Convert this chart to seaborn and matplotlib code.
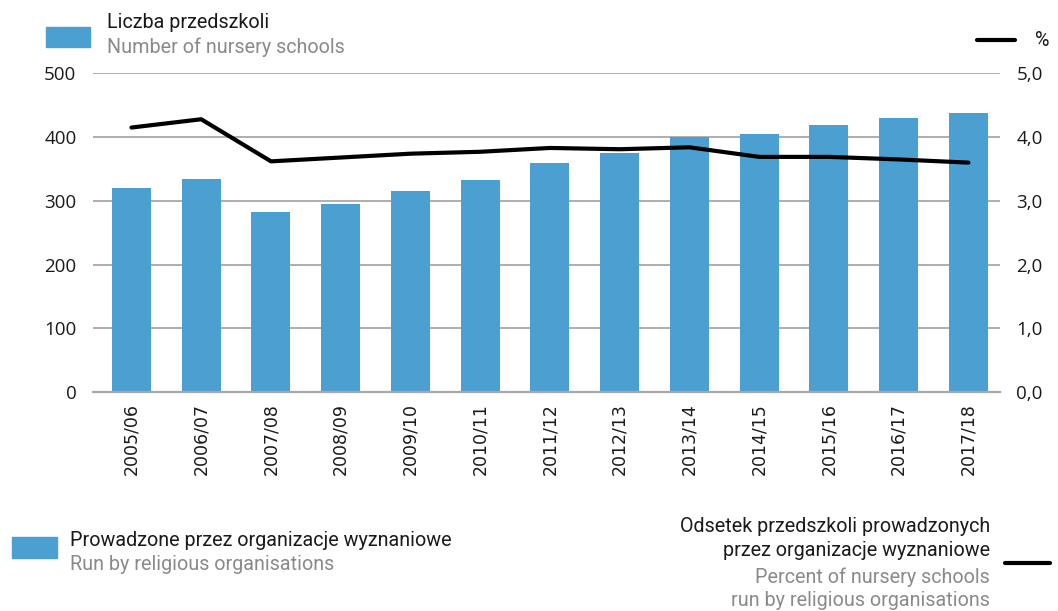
import numpy as np
import pandas as pd
import matplotlib
matplotlib.use("Agg")
import matplotlib.pyplot as plt
import seaborn as sns
from matplotlib.patches import Rectangle
from matplotlib.lines import Line2D

# ---------------------------------------------------
# DATA
# ---------------------------------------------------

years = ["2005/06", "2006/07", "2007/08", "2008/09", "2009/10", "2010/11",
         "2011/12", "2012/13", "2013/14", "2014/15", "2015/16", "2016/17",
         "2017/18"]
schools = [321, 334, 282, 295, 315, 332, 359, 375, 400, 405, 419, 430, 438]
percent = [4.15, 4.28, 3.62, 3.68, 3.74, 3.77, 3.83, 3.81, 3.84, 3.69, 3.69,
           3.65, 3.60]

left_ticks = [0, 100, 200, 300, 400, 500]
right_ticks = [0.0, 1.0, 2.0, 3.0, 4.0, 5.0]

df = pd.DataFrame({"year": years, "schools": schools, "percent": percent})
df["pos"] = np.arange(len(df))

BLUE = "#4c9fd1"
GRAY_TXT = "#8a8a8a"
GRID = "#a8a8a8"
NARROW = ["Roboto", "DejaVu Sans"]
TICKF = ["Open Sans", "DejaVu Sans"]
LEG_SIZE = 14.2

sns.set_theme(style="white")
plt.rcParams["font.family"] = TICKF

fig = plt.figure(figsize=(10.58, 6.11), dpi=100)
ax = fig.add_axes([0.088, 0.358, 0.857, 0.522])

# ---------------------------------------------------
# BARS
# ---------------------------------------------------

sns.barplot(data=df, x="year", y="schools", color=BLUE, width=0.56,
            saturation=1, linewidth=0, ax=ax, zorder=2)

ax.set_ylim(0, 500)
ax.set_xlim(-0.55, len(years) - 0.55)
ax.set_yticks(left_ticks)
ax.set_yticklabels([str(t) for t in left_ticks], fontsize=13.5,
                   color="#1a1a1a")
ax.yaxis.grid(True, color=GRID, linewidth=1.3, zorder=0)
ax.set_axisbelow(True)
ax.set_xlabel("")
ax.set_ylabel("")
ax.tick_params(axis="y", length=0, pad=12)
ax.tick_params(axis="x", length=0, pad=8)
plt.setp(ax.get_xticklabels(), rotation=90, fontsize=12.5,
         family=["DejaVu Sans"], color="#1a1a1a")

for s in ["left", "right", "top"]:
    ax.spines[s].set_visible(False)
ax.spines["bottom"].set_color(GRID)
ax.spines["bottom"].set_linewidth(1.6)

# ---------------------------------------------------
# LINE (RIGHT AXIS)
# ---------------------------------------------------

ax2 = ax.twinx()
sns.lineplot(data=df, x="pos", y="percent", color="black", linewidth=3,
             ax=ax2, zorder=3)
ax2.set_ylim(0, 5)
ax2.set_yticks(right_ticks)
ax2.set_yticklabels([f"{t:.1f}".replace(".", ",") for t in right_ticks],
                    fontsize=13.5, color="#1a1a1a")
ax2.tick_params(axis="y", length=0, pad=12)
ax2.set_ylabel("")
ax2.set_xlabel("")
for s in ["left", "right", "top", "bottom"]:
    ax2.spines[s].set_visible(False)

# ---------------------------------------------------
# LEGENDS
# ---------------------------------------------------

W, H = 1058, 611


def fx(px):
    return px / W


def fy(py):
    return 1 - py / H


fig.patches.append(Rectangle((fx(46), fy(47)), 44 / W, 20 / H,
                             transform=fig.transFigure, color=BLUE))
fig.text(fx(107), fy(22), "Liczba przedszkoli", family=NARROW,
         fontsize=LEG_SIZE, va="center", ha="left", color="#1a1a1a")
fig.text(fx(107), fy(47), "Number of nursery schools", family=NARROW,
         fontsize=LEG_SIZE, va="center", ha="left", color=GRAY_TXT)

fig.lines.append(Line2D([fx(977), fx(1015)], [fy(40), fy(40)],
                        transform=fig.transFigure, color="black",
                        linewidth=3))
fig.text(fx(1035), fy(40), "%", family=NARROW, fontsize=LEG_SIZE,
         va="center", ha="left", color="#1a1a1a")

fig.patches.append(Rectangle((fx(12), fy(558)), 45 / W, 21 / H,
                             transform=fig.transFigure, color=BLUE))
fig.text(fx(70), fy(541), "Prowadzone przez organizacje wyznaniowe",
         family=NARROW, fontsize=LEG_SIZE, va="center", ha="left",
         color="#1a1a1a")
fig.text(fx(70), fy(565), "Run by religious organisations", family=NARROW,
         fontsize=LEG_SIZE, va="center", ha="left", color=GRAY_TXT)

fig.text(fx(990), fy(527), "Odsetek przedszkoli prowadzonych",
         family=NARROW, fontsize=LEG_SIZE, va="center", ha="right",
         color="#1a1a1a")
fig.text(fx(990), fy(551), "przez organizacje wyznaniowe", family=NARROW,
         fontsize=LEG_SIZE, va="center", ha="right", color="#1a1a1a")
fig.text(fx(990), fy(577), "Percent of nursery schools", family=NARROW,
         fontsize=LEG_SIZE, va="center", ha="right", color=GRAY_TXT)
fig.text(fx(990), fy(600), "run by religious organisations", family=NARROW,
         fontsize=LEG_SIZE, va="center", ha="right", color=GRAY_TXT)
fig.lines.append(Line2D([fx(1005), fx(1050)], [fy(563), fy(563)],
                        transform=fig.transFigure, color="black",
                        linewidth=3))

fig.savefig("out.png", dpi=100)
